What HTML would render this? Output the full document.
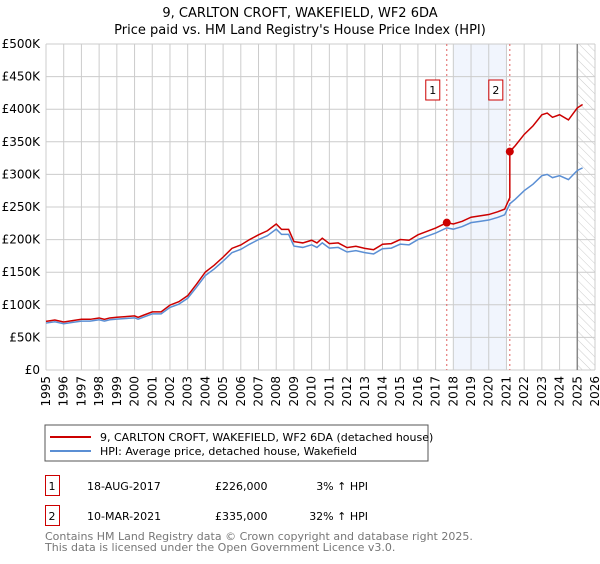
<!DOCTYPE html>
<html><head><meta charset="utf-8"><style>
body{margin:0;background:#fff;font-family:"DejaVu Sans","Liberation Sans",sans-serif;}
svg text{font-family:"DejaVu Sans","Liberation Sans",sans-serif;}
</style></head><body>
<svg id="c" width="600" height="560" xmlns="http://www.w3.org/2000/svg">
<defs><pattern id="hatch" width="6" height="6" patternUnits="userSpaceOnUse" patternTransform="rotate(-45)"><line x1="0" y1="0" x2="0" y2="6" stroke="#ccc" stroke-width="1"/></pattern></defs>
<text x="300" y="17" text-anchor="middle" font-size="13">9, CARLTON CROFT, WAKEFIELD, WF2 6DA</text>
<text x="300" y="34" text-anchor="middle" font-size="13">Price paid vs. HM Land Registry's House Price Index (HPI)</text>
<g id="plot"></g>
<rect x="45" y="425" width="383" height="36" fill="#fff" stroke="#555"/>
<line x1="50" y1="437" x2="91" y2="437" stroke="#cc0000" stroke-width="2"/>
<text x="100" y="441" font-size="11">9, CARLTON CROFT, WAKEFIELD, WF2 6DA (detached house)</text>
<line x1="50" y1="451" x2="91" y2="451" stroke="#5b8fd4" stroke-width="2"/>
<text x="100" y="455" font-size="11">HPI: Average price, detached house, Wakefield</text>
<g>
<rect x="45.5" y="475.5" width="14" height="20" fill="#fff" stroke="#cc0000"/>
<text x="52" y="490" font-size="11" text-anchor="middle">1</text>
<text x="87" y="490" font-size="11">18-AUG-2017</text>
<text x="215" y="490" font-size="11">£226,000</text>
<text x="368" y="490" font-size="11" text-anchor="end">3% ↑ HPI</text></g>
<g>
<rect x="45.5" y="505.5" width="14" height="20" fill="#fff" stroke="#cc0000"/>
<text x="52" y="520" font-size="11" text-anchor="middle">2</text>
<text x="87" y="520" font-size="11">10-MAR-2021</text>
<text x="215" y="520" font-size="11">£335,000</text>
<text x="368" y="520" font-size="11" text-anchor="end">32% ↑ HPI</text></g>
<text x="45" y="540" font-size="11" fill="#777">Contains HM Land Registry data © Crown copyright and database right 2025.</text>
<text x="45" y="551" font-size="11" fill="#777">This data is licensed under the Open Government Licence v3.0.</text>
</svg>
<script>
const hpiYears=[1995,1995.5,1996,1996.5,1997,1997.5,1998,1998.3,1998.6,1999,1999.5,2000,2000.2,2000.5,2001,2001.5,2002,2002.5,2003,2003.5,2004,2004.5,2005,2005.5,2006,2006.5,2007,2007.5,2008,2008.3,2008.7,2009,2009.5,2010,2010.3,2010.6,2011,2011.5,2012,2012.5,2013,2013.5,2014,2014.5,2015,2015.5,2016,2016.5,2017,2017.63,2018,2018.5,2019,2019.5,2020,2020.5,2020.9,2021.19,2021.5,2022,2022.5,2023,2023.3,2023.6,2024,2024.5,2025,2025.3];
const hpiValues=[72,74,71,73,75,75,77,75,77,78,79,80,78,81,86,86,96,101,110,127,145,155,167,180,185,193,200,206,216,208,208,190,188,192,188,195,187,188,181,183,180,178,186,187,193,192,200,205,210,218,216,220,226,228,230,234,238,255,262,275,285,298,300,295,298,292,306,310];
const saleYears=[2017.63,2021.19];
const saleValues=[226,335];
const saleLabels=["1","2"];
const yTicks=[0,50,100,150,200,250,300,350,400,450,500];
const yTickLabels=["£0","£50K","£100K","£150K","£200K","£250K","£300K","£350K","£400K","£450K","£500K"];
const xTicks=[1995,1996,1997,1998,1999,2000,2001,2002,2003,2004,2005,2006,2007,2008,2009,2010,2011,2012,2013,2014,2015,2016,2017,2018,2019,2020,2021,2022,2023,2024,2025,2026];
const X0=46,X1=595,Y0=370,Y1=44;
const xs=y=>X0+(y-1995)/(2026-1995)*(X1-X0);
const ys=v=>Y0-v/500*(Y0-Y1);
const NS="http://www.w3.org/2000/svg";
const g=document.getElementById('plot');
function mk(t,a){const e=document.createElementNS(NS,t);for(const k in a)e.setAttribute(k,a[k]);g.appendChild(e);return e;}
let e;
e=mk('rect',{x:xs(2018),y:Y1,width:xs(2021)-xs(2018),height:Y0-Y1,fill:'#eef3fc',opacity:0.8});


e=mk('rect',{x:xs(2025),y:Y1,width:X1-xs(2025),height:Y0-Y1,fill:'url(#hatch)'});


yTicks.forEach((v,i)=>{
 e=mk('line',{x1:X0,x2:X1,y1:ys(v),y2:ys(v),stroke:'#ccc','stroke-width':1});
 
 
 e=mk('text',{x:40,y:ys(v)+4,'text-anchor':'end','font-size':12});
 e.textContent=yTickLabels[i];
 
 
});
xTicks.forEach(yr=>{
 e=mk('line',{x1:xs(yr),x2:xs(yr),y1:Y1,y2:Y0,stroke:'#ccc','stroke-width':1});
 
 
 e=mk('text',{x:0,y:0,'font-size':12,'text-anchor':'end',transform:`translate(${xs(yr)+4},376) rotate(-90)`});
 e.textContent=yr;
 
 
});
e=mk('line',{x1:xs(2025),x2:xs(2025),y1:Y1,y2:Y0,stroke:'#888','stroke-width':1.5});


// vertical sale markers
saleYears.forEach((yr,i)=>{
 e=mk('line',{x1:xs(yr),x2:xs(yr),y1:Y1,y2:Y0,stroke:'#e06060','stroke-width':1,'stroke-dasharray':'2,3'});
 
 
 e=mk('rect',{x:xs(yr)-21,y:80,width:14,height:20,fill:'#fff',stroke:'#cc0000'});
 
 
 e=mk('text',{x:xs(yr)-14,y:94,'text-anchor':'middle','font-size':11});
 e.textContent=saleLabels[i];
 
 
});
function hpiAt(t){for(let i=1;i<hpiYears.length;i++){if(t<=hpiYears[i]){const f=(t-hpiYears[i-1])/(hpiYears[i]-hpiYears[i-1]);return hpiValues[i-1]+f*(hpiValues[i]-hpiValues[i-1]);}}return hpiValues[hpiValues.length-1];}
// blue
e=mk('polyline',{points:hpiYears.map((y,i)=>xs(y)+','+ys(hpiValues[i])).join(' '),fill:'none',stroke:'#5b8fd4','stroke-width':1.5});


// red: price path indexed to HPI from sales
const r1=saleValues[0]/hpiAt(saleYears[0]), r2=saleValues[1]/hpiAt(saleYears[1]);
let pts=[];
hpiYears.forEach((y,i)=>{
 if(y<saleYears[1]) pts.push([y,hpiValues[i]*r1]);
 else { if(y===saleYears[1]) pts.push([y,hpiValues[i]*r1]); pts.push([y,hpiValues[i]*r2]); }
});
e=mk('polyline',{points:pts.map(p=>xs(p[0])+','+ys(p[1])).join(' '),fill:'none',stroke:'#cc0000','stroke-width':1.5});


saleYears.forEach((yr,i)=>{
 e=mk('circle',{cx:xs(yr),cy:ys(saleValues[i]),r:4,fill:'#cc0000'});
 
 
});
</script>
</body></html>
